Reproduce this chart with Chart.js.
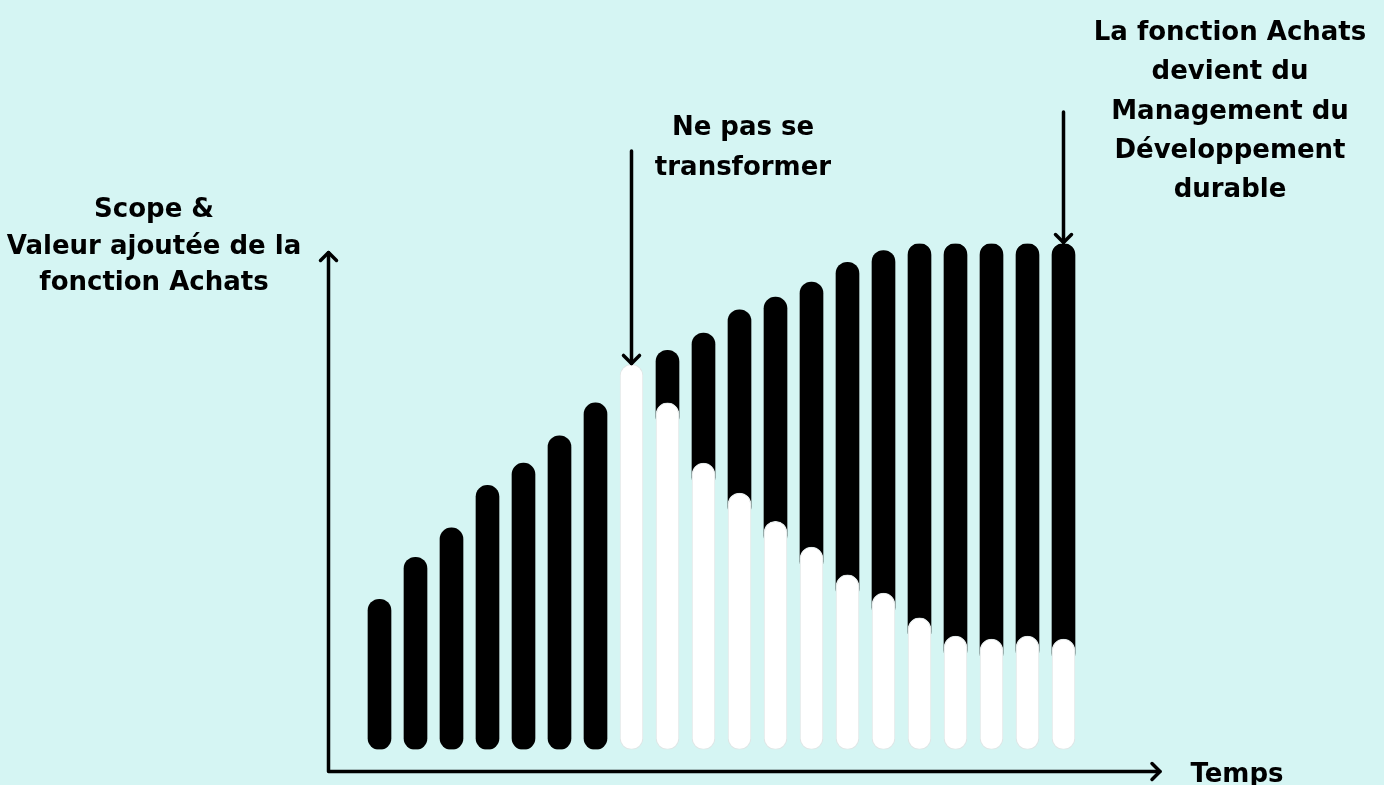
<!DOCTYPE html>
<html lang="fr">
<head>
<meta charset="utf-8">
<title>Scope & Valeur ajoutée de la fonction Achats</title>
<script src="https://cdn.jsdelivr.net/npm/chart.js@4"></script>
<style>
  html, body { margin: 0; padding: 0; background: #d5f5f3; }
  #wrap { width: 1384px; height: 785px; position: relative; }
</style>
</head>
<body>
<div id="wrap"><canvas id="chart" width="1384" height="785"></canvas></div>
<script>
// Time steps along the horizontal axis
const periods = ['t1','t2','t3','t4','t5','t6','t7','t8','t9','t10',
                 't11','t12','t13','t14','t15','t16','t17','t18','t19','t20'];

// Overall scope & added value of the purchasing function (0–100)
const scopeTotal = [29.7, 38.0, 43.8, 52.2, 56.6, 62.0, 68.5, 76.1, 78.9, 82.3,
                    86.9, 89.4, 92.4, 96.3, 98.6, 100, 100, 100, 100, 100];

// Part left untransformed (white portion of each bar)
const untransformed = [null, null, null, null, null, null, null, 76.1, 68.5, 56.6,
                       50.7, 45.1, 40.0, 34.5, 30.9, 26.0, 22.4, 21.8, 22.4, 21.8];

// Text blocks
const yTitle = ['Scope &', 'Valeur ajoutée de la', 'fonction Achats'];
const xTitle = 'Temps';
const noTransformNote = ['Ne pas se', 'transformer'];
const sustainableNote = ['La fonction Achats', 'devient du', 'Management du', 'Développement', 'durable'];

const FONT = '700 26px "DejaVu Sans", sans-serif';
const INK = '#000000';
// how far the black part tucks under the rounded white cap (value units)
const TUCK = 5;

function arrowHead(ctx, x, y, dir) {
  // chevron arrow head; dir: 'up' | 'down' | 'right'
  const s = 8;
  ctx.beginPath();
  if (dir === 'up') { ctx.moveTo(x - s, y + s); ctx.lineTo(x, y); ctx.lineTo(x + s, y + s); }
  if (dir === 'down') { ctx.moveTo(x - s, y - s); ctx.lineTo(x, y); ctx.lineTo(x + s, y - s); }
  if (dir === 'right') { ctx.moveTo(x - s, y - s); ctx.lineTo(x, y); ctx.lineTo(x - s, y + s); }
  ctx.stroke();
}

function textBlock(ctx, lines, cx, firstBaseline, lineHeight) {
  ctx.font = FONT;
  ctx.fillStyle = INK;
  ctx.textAlign = 'center';
  ctx.textBaseline = 'alphabetic';
  lines.forEach((l, i) => ctx.fillText(l, cx, firstBaseline + i * lineHeight));
}

const decorations = {
  id: 'decorations',
  afterDraw(chart) {
    const { ctx, chartArea: a, scales: { x, y } } = chart;
    ctx.save();
    ctx.strokeStyle = INK;
    ctx.lineWidth = 3.5;
    ctx.lineCap = 'round';
    ctx.lineJoin = 'round';

    // axes with arrows
    const ox = a.left - 33, oy = a.bottom + 22;
    const yTip = a.top + 9, xTip = a.right + 78.5;
    ctx.beginPath();
    ctx.moveTo(ox, oy); ctx.lineTo(ox, yTip);
    ctx.moveTo(ox, oy); ctx.lineTo(xTip, oy);
    ctx.stroke();
    arrowHead(ctx, ox, yTip, 'up');
    arrowHead(ctx, xTip, oy, 'right');

    // pointer to the last fully untransformed bar
    const i8 = 7;
    const x8 = x.getPixelForValue(i8);
    const tip8 = y.getPixelForValue(scopeTotal[i8]) - 1;
    ctx.beginPath(); ctx.moveTo(x8, 151); ctx.lineTo(x8, tip8); ctx.stroke();
    arrowHead(ctx, x8, tip8, 'down');

    // pointer to the final bar
    const iL = scopeTotal.length - 1;
    const xL = x.getPixelForValue(iL);
    const tipL = y.getPixelForValue(scopeTotal[iL]) - 1;
    ctx.beginPath(); ctx.moveTo(xL, 112); ctx.lineTo(xL, tipL); ctx.stroke();
    arrowHead(ctx, xL, tipL, 'down');

    // labels
    textBlock(ctx, yTitle, 154, 217, 36.5);
    textBlock(ctx, noTransformNote, 743, 135, 40);
    textBlock(ctx, sustainableNote, 1230, 40, 39.3);
    textBlock(ctx, [xTitle], 1237, 782, 0);
    ctx.restore();
  }
};

// black part: full bar where nothing is untransformed, otherwise a floating
// segment from just under the white cap up to the total
const transformedPart = scopeTotal.map((v, i) => {
  const w = untransformed[i];
  if (w === null) return v;
  if (w >= v) return null;
  return [w - TUCK, v];
});

new Chart(document.getElementById('chart'), {
  type: 'bar',
  data: {
    labels: periods,
    datasets: [
      {
        label: 'Non transformé',
        data: untransformed,
        backgroundColor: '#ffffff',
        borderColor: '#dfe6e6',
        borderWidth: 1,
        borderRadius: 12,
        borderSkipped: false,
        barThickness: 23,
        grouped: false,
        order: 0
      },
      {
        label: 'Scope & valeur ajoutée',
        data: transformedPart,
        backgroundColor: '#000000',
        borderRadius: 12,
        borderSkipped: false,
        barThickness: 23,
        grouped: false,
        order: 1
      }
    ]
  },
  options: {
    responsive: false,
    animation: false,
    layout: { padding: { left: 361.5, right: 302.5, top: 243.5, bottom: 35.5 } },
    scales: {
      x: { display: false, offset: true },
      y: { display: false, min: 0, max: 100 }
    },
    plugins: {
      legend: { display: false },
      tooltip: { enabled: false }
    }
  },
  plugins: [decorations]
});
</script>
</body>
</html>
